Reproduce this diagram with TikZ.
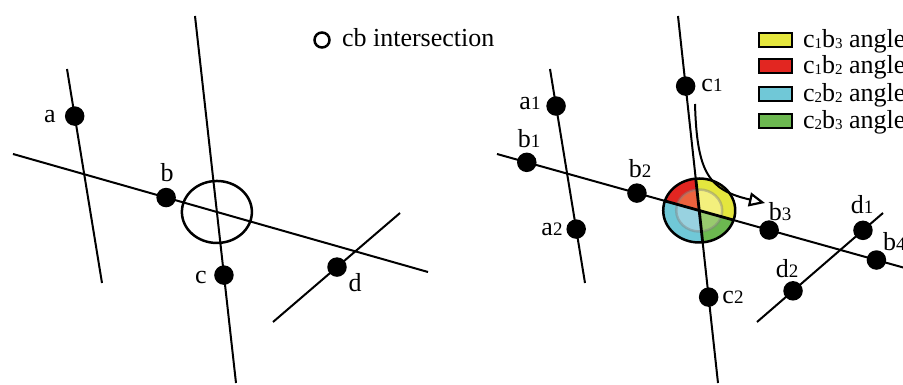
\documentclass[tikz,border=0pt]{standalone}
\usepackage{fontspec}
\setmainfont{Liberation Serif}
\usetikzlibrary{arrows.meta}
\definecolor{yelc}{RGB}{228,230,62}
\definecolor{redc}{RGB}{226,38,33}
\definecolor{bluc}{RGB}{112,200,215}
\definecolor{grnc}{RGB}{108,184,80}
\definecolor{yeli}{RGB}{243,240,125}
\definecolor{redi}{RGB}{236,98,62}
\definecolor{blui}{RGB}{152,210,224}
\definecolor{grni}{RGB}{152,202,110}
\newcommand\dg[1]{{\fontsize{19}{19}\selectfont #1}}
\newcommand\sbd[1]{\raisebox{-1pt}{\fontsize{15}{15}\selectfont #1}}
\begin{document}
\begin{tikzpicture}[x=1pt,y=1pt,line width=2pt,
  dot/.style={circle,fill=black,draw=none,inner sep=0pt,minimum size=19.5pt},
  lab/.style={inner sep=0pt,anchor=base,font=\fontsize{26}{26}\selectfont},
  leg/.style={inner sep=0pt,anchor=base west,font=\fontsize{26}{26}\selectfont},
  legbox/.style={draw=black,line width=2pt,minimum width=33pt,minimum height=14pt,inner sep=0pt},
  ring/.style={line width=2.5pt}]
\useasboundingbox[fill=white] (0,0) rectangle (903,-385);

% ---------- left panel ----------
\coordinate (LA1) at (67,-69);   \coordinate (LA2) at (102,-283);
\coordinate (LB1) at (13,-154);  \coordinate (LB2) at (428,-272);
\coordinate (LC1) at (195,-16);  \coordinate (LC2) at (236,-383);
\coordinate (LD1) at (273,-322); \coordinate (LD2) at (400,-213);
\draw (LA1) -- (LA2) node[dot,pos=0.22] (a) {};
\draw (LB1) -- (LB2) node[dot,pos=0.369] (b) {};
\draw (LC1) -- (LC2) node[dot,pos=0.706] (c) {};
\draw (LD1) -- (LD2) node[dot,pos=0.504] (d) {};
\coordinate (LX) at (intersection of LB1--LB2 and LC1--LC2);
\draw[ring] (LX) ellipse[x radius=35,y radius=31];
\node[lab] (la) at (50,-123) {a};
\node[lab] (lb) at (167,-182) {b};
\node[lab] (lc) at (201,-283) {c};
\node[lab] (ld) at (355,-291) {d};

% legend left
\node[circle,draw=black,line width=2.5pt,minimum size=15pt,inner sep=0pt] (lgc) at (322,-40) {};
\node[inner sep=0pt,anchor=base west,font=\fontsize{26}{26}\selectfont] (lgt) at (341,-47) {cb intersection};

% ---------- right panel ----------
\coordinate (RA1) at (550,-69);  \coordinate (RA2) at (585,-283);
\coordinate (RB1) at (497,-154); \coordinate (RB2) at (905,-268);
\coordinate (RC1) at (678,-16);  \coordinate (RC2) at (718,-383);
\coordinate (RD1) at (757,-322); \coordinate (RD2) at (883,-213);
\coordinate (RX) at (intersection of RB1--RB2 and RC1--RC2);

\draw (RA1) -- (RA2);
\draw (RB1) -- (RB2);
\draw (RC1) -- (RC2);
\draw (RD1) -- (RD2);

% coloured angle disc
\fill[yelc] (RX) -- ++(-17.4:36 and 32) arc[start angle=-17.4,end angle=95.5,x radius=36,y radius=32] -- cycle;
\fill[redc] (RX) -- ++(95.5:36 and 32) arc[start angle=95.5,end angle=162.6,x radius=36,y radius=32] -- cycle;
\fill[bluc] (RX) -- ++(162.6:36 and 32) arc[start angle=162.6,end angle=275.5,x radius=36,y radius=32] -- cycle;
\fill[grnc] (RX) -- ++(275.5:36 and 32) arc[start angle=275.5,end angle=342.6,x radius=36,y radius=32] -- cycle;
\fill[yeli] (RX) -- ++(-17.4:23 and 21) arc[start angle=-17.4,end angle=95.5,x radius=23,y radius=21] -- cycle;
\fill[redi] (RX) -- ++(95.5:23 and 21) arc[start angle=95.5,end angle=162.6,x radius=23,y radius=21] -- cycle;
\fill[blui] (RX) -- ++(162.6:23 and 21) arc[start angle=162.6,end angle=275.5,x radius=23,y radius=21] -- cycle;
\fill[grni] (RX) -- ++(275.5:23 and 21) arc[start angle=275.5,end angle=342.6,x radius=23,y radius=21] -- cycle;
\draw[gray,opacity=0.45,line width=2.5pt] (RX) ellipse[x radius=23,y radius=21];
\draw[line width=2.8pt] (RX) -- ++(-17.4:36 and 32);
\draw[line width=2.8pt] (RX) -- ++(95.5:36 and 32);
\draw[line width=2.8pt] (RX) -- ++(162.6:36 and 32);
\draw[line width=2.8pt] (RX) -- ++(275.5:36 and 32);
\draw[ring] (RX) ellipse[x radius=36,y radius=32];

% dots
\path (RA1) -- (RA2) node[dot,pos=0.173] (a1) {} node[dot,pos=0.748] (a2) {};
\path (RB1) -- (RB2) node[dot,pos=0.073] (b1) {} node[dot,pos=0.343] (b2) {}
                     node[dot,pos=0.667] (b3) {} node[dot,pos=0.93] (b4) {};
\path (RC1) -- (RC2) node[dot,pos=0.191] (c1) {} node[dot,pos=0.766] (c2) {};
\path (RD1) -- (RD2) node[dot,pos=0.841] (d1) {} node[dot,pos=0.286] (d2) {};

% curved arrow
\coordinate (AS) at (695,-104);
\coordinate (AE) at (765,-203);
\draw[line width=2pt,-{Triangle[open,length=16pt,width=14pt,line width=2.2pt]}] (AS) .. controls (697,-172) and (708,-190) .. (AE);

% labels
\node[lab] (la1) at (530,-110) {a\dg{1}};
\node[lab] (lb1) at (529,-148) {b\dg{1}};
\node[lab] (lb2) at (640,-178) {b\dg{2}};
\node[lab] (la2) at (552,-236) {a\dg{2}};
\node[lab] (lc1) at (712,-92) {c\dg{1}};
\node[lab] (lb3) at (780,-221) {b\dg{3}};
\node[lab] (ld1) at (862,-214) {d\dg{1}};
\node[lab,anchor=base west] (lb4) at (882,-250) {b\dg{4}};
\node[lab] (ld2) at (787,-277) {d\dg{2}};
\node[lab] (lc2) at (733,-303) {c\dg{2}};

% legend right
\node[legbox,fill=yelc] (k1) at (775,-40) {};
\node[legbox,fill=redc] (k2) at (775,-66) {};
\node[legbox,fill=bluc] (k3) at (775,-94) {};
\node[legbox,fill=grnc] (k4) at (775,-121) {};
\node[leg] (t1) at (802,-48) {c\sbd{1}b\sbd{3} angle};
\node[leg] (t2) at (802,-74) {c\sbd{1}b\sbd{2} angle};
\node[leg] (t3) at (802,-102) {c\sbd{2}b\sbd{2} angle};
\node[leg] (t4) at (802,-129) {c\sbd{2}b\sbd{3} angle};
\end{tikzpicture}
\end{document}
